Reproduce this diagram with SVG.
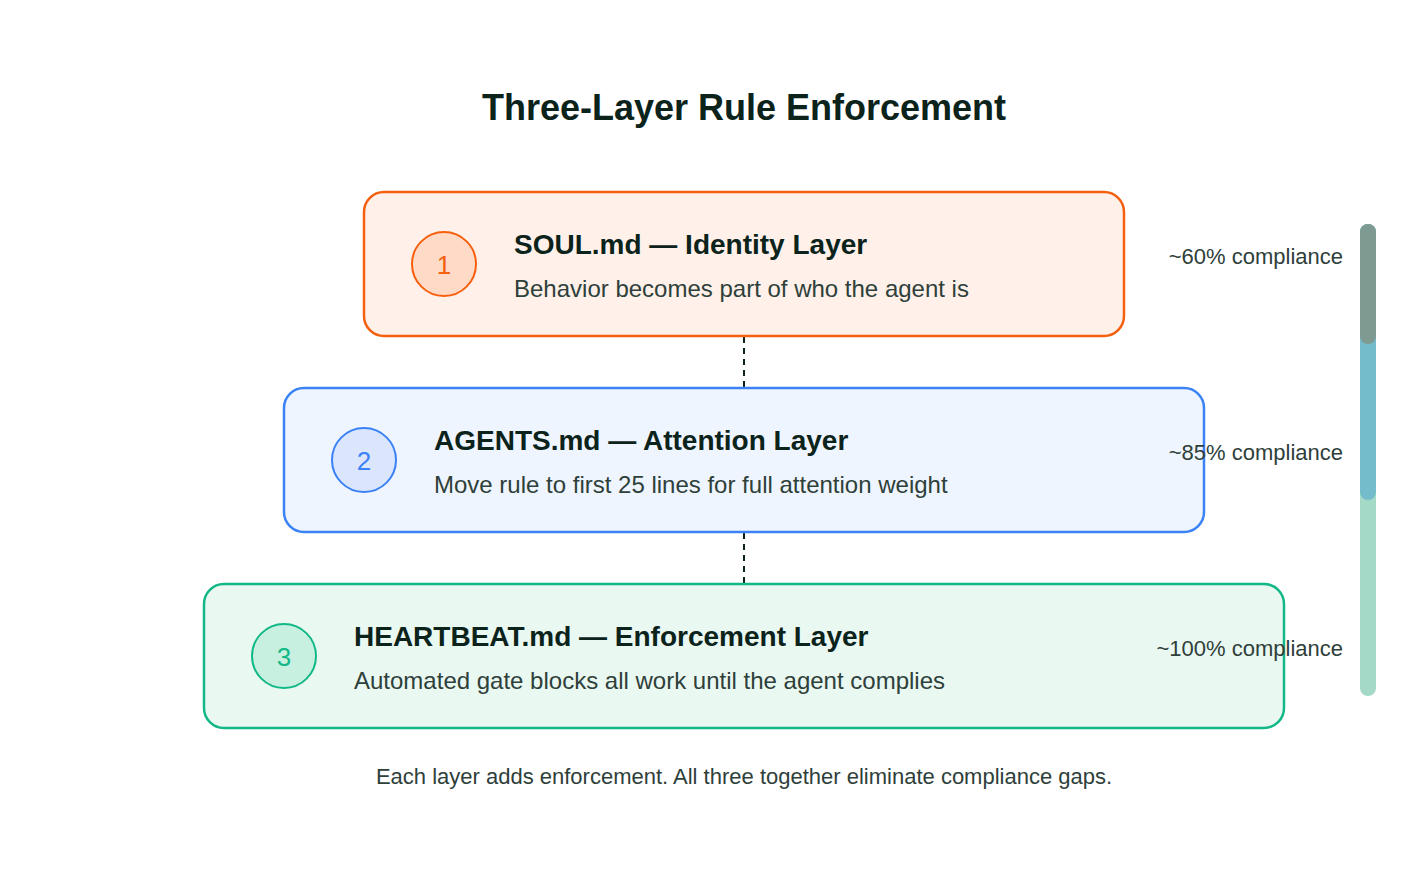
<svg xmlns="http://www.w3.org/2000/svg" width="1424" height="892" viewBox="0 0 1424 892">
<style>
.title{font-family:"Liberation Sans",Arial,sans-serif;font-weight:bold;font-size:36px;fill:#0b231b}
.h{font-family:"Liberation Sans",Arial,sans-serif;font-weight:bold;font-size:28px;fill:#0b231b}
.s{font-family:"Liberation Sans",Arial,sans-serif;font-size:24px;fill:#2e403a}
.c{font-family:"Liberation Sans",Arial,sans-serif;font-size:22px;fill:#2e403a;text-anchor:end}
.f{font-family:"Liberation Sans",Arial,sans-serif;font-size:22px;fill:#2e403a;text-anchor:middle}
.n{font-family:"Liberation Sans",Arial,sans-serif;font-size:26px;text-anchor:middle}
.box{stroke-width:2.5}
.conn{stroke:#0b231b;stroke-width:2;stroke-dasharray:6 5;fill:none}
</style>
<rect width="1424" height="892" fill="#ffffff"/>
<text class="title" x="744" y="120" text-anchor="middle">Three-Layer Rule Enforcement</text>
<g id="connectors">
<line class="conn" x1="744" y1="337" x2="744" y2="387"/>
<line class="conn" x1="744" y1="533" x2="744" y2="583"/>
</g>
<g id="layer1">
<rect class="box" x="364" y="192" width="760" height="144" rx="20" fill="#fff1e9" stroke="#f5600f"/>
<circle cx="444" cy="264" r="32" fill="#ffdac7" stroke="#f5600f" stroke-width="2"/>
<text class="n" x="444" y="274" fill="#f5600f">1</text>
<text class="h" x="514" y="254">SOUL.md — Identity Layer</text>
<text class="s" x="514" y="297">Behavior becomes part of who the agent is</text>
</g>
<g id="layer2">
<rect class="box" x="284" y="388" width="920" height="144" rx="20" fill="#eff5fe" stroke="#3b82f6"/>
<circle cx="364" cy="460" r="32" fill="#dbe6fd" stroke="#3b82f6" stroke-width="2"/>
<text class="n" x="364" y="470" fill="#3b82f6">2</text>
<text class="h" x="434" y="450">AGENTS.md — Attention Layer</text>
<text class="s" x="434" y="493">Move rule to first 25 lines for full attention weight</text>
</g>
<g id="layer3">
<rect class="box" x="204" y="584" width="1080" height="144" rx="20" fill="#eaf8f2" stroke="#12b886"/>
<circle cx="284" cy="656" r="32" fill="#c8f0e1" stroke="#12b886" stroke-width="2"/>
<text class="n" x="284" y="666" fill="#12b886">3</text>
<text class="h" x="354" y="646">HEARTBEAT.md — Enforcement Layer</text>
<text class="s" x="354" y="689">Automated gate blocks all work until the agent complies</text>
</g>
<g id="compliance">
<rect x="1360" y="224" width="16" height="472" rx="8" fill="#a3d9c6"/>
<rect x="1360" y="224" width="16" height="276" rx="8" fill="#74bccb"/>
<rect x="1360" y="224" width="16" height="120" rx="8" fill="#7f9a90"/>
<text class="c" x="1343" y="264">~60% compliance</text>
<text class="c" x="1343" y="460">~85% compliance</text>
<text class="c" x="1343" y="656">~100% compliance</text>
</g>
<text class="f" x="744" y="784">Each layer adds enforcement. All three together eliminate compliance gaps.</text>
</svg>
